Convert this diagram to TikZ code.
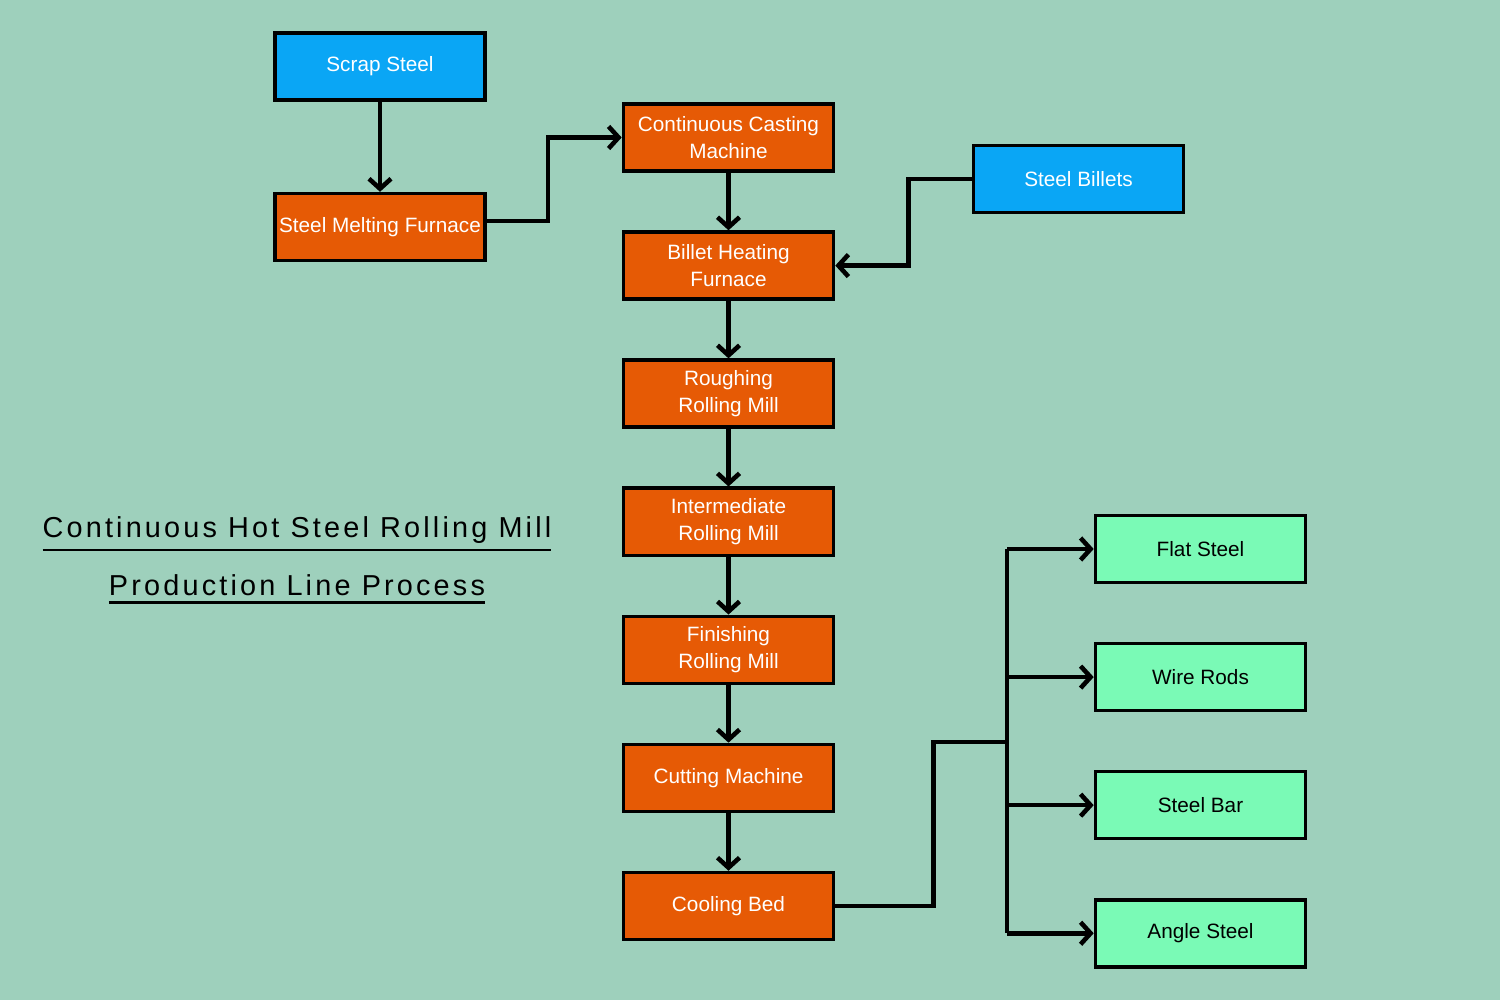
\documentclass[tikz,border=0pt]{standalone}
\usepackage{fontspec}
\setmainfont{Liberation Sans}
\usetikzlibrary{arrows.meta,positioning}
\definecolor{bgteal}{RGB}{158,208,188}
\definecolor{procorange}{RGB}{230,90,5}
\definecolor{feedblue}{RGB}{10,166,245}
\definecolor{prodgreen}{RGB}{122,250,182}
\newcommand\headline[1]{\setbox0\hbox{#1}%
  \rlap{\vrule height -\dimexpr\dp0+1.3pt\relax depth \dimexpr\dp0+2.1pt\relax width \wd0}\box0}

\begin{document}
\begin{tikzpicture}[
  x=0.01cm, y=0.01cm,
  font=\fontsize{5.9}{7.6}\selectfont,
  node distance=5.75mm,
  proc/.style={draw, line width=1pt, fill=procorange, text=white, align=center,
               minimum width=21mm, minimum height=6.7mm, inner sep=0.5pt},
  feed/.style={proc, fill=feedblue},
  product/.style={proc, fill=prodgreen, text=black},
  heading/.style={font=\fontsize{8.2}{10}\selectfont\addfontfeature{LetterSpace=11}, anchor=base},
  arr/.style={-{Straight Barb[length=1mm,width=2.2mm]}, line width=1.3pt}
]
\fill[bgteal] (0,0) rectangle (1500,1000);
\useasboundingbox (0,0) rectangle (1500,1000);

\node[feed] (scrap) at (380,933.5) {Scrap Steel};
\node[proc, below=9mm of scrap] (melt) {Steel Melting Furnace};
\node[proc] (cast) at (728.5,862.5) {Continuous Casting\\Machine};
\node[proc, below=of cast] (heat) {Billet Heating\\Furnace};
\node[proc, below=of heat] (rough) {Roughing\\Rolling Mill};
\node[proc, below=of rough] (inter) {Intermediate\\Rolling Mill};
\node[proc, below=of inter] (finish) {Finishing\\Rolling Mill};
\node[proc, below=of finish] (cut) {Cutting Machine};
\node[proc, below=of cut] (cool) {Cooling Bed};
\node[feed] (billets) at (1078.5,821) {Steel Billets};
\node[product] (flat) at (1200.5,451) {Flat Steel};
\node[product, below=of flat] (wire) {Wire Rods};
\node[product, below=of wire] (bar) {Steel Bar};
\node[product, below=of bar] (angle) {Angle Steel};

\node[heading] (title1) at (297,462) {\headline{Continuous Hot Steel Rolling Mill}};
\node[heading] (title2) at (297,404) {\headline{Production Line Process}};

\draw[arr] (scrap) -- (melt);
\draw[arr] ([yshift=0.06cm]melt.east) -- ++(61,0) |- (cast.west);
\draw[arr] (billets.west) -- ++(-63,0) |- (heat.east);
\draw[arr] (cast) -- (heat);
\draw[arr] (heat) -- (rough);
\draw[arr] (rough) -- (inter);
\draw[arr] (inter) -- (finish);
\draw[arr] (finish) -- (cut);
\draw[arr] (cut) -- (cool);

% cooling bed splits into the four products
\coordinate (split) at (1007,258);
\draw[line width=1.3pt] (cool.east) -- ++(98,0) |- (split);
\draw[line width=1.3pt] (split |- flat.west) -- (split |- angle.west);
\foreach \p in {flat,wire,bar,angle}
  \draw[arr] (split |- \p.west) -- (\p.west);
\end{tikzpicture}
\end{document}
